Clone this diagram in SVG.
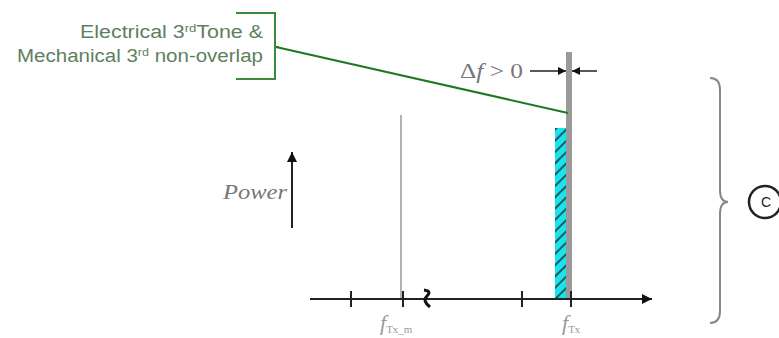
<svg xmlns="http://www.w3.org/2000/svg" width="779" height="338" viewBox="0 0 779 338">
<style>
.lbl{font-family:"Liberation Sans",Arial,sans-serif;font-size:18px;fill:#5e7f5e}
.math{font-family:"Liberation Serif","Times New Roman",serif;font-style:italic;fill:#777}
.sub{fill:#999}
.ax{stroke:#222;stroke-width:2;fill:none}
</style>
<defs>
<marker id="ah" viewBox="0 0 10 10" refX="10" refY="5" markerWidth="20" markerHeight="10" markerUnits="userSpaceOnUse" orient="auto"><path d="M0,0 L10,5 L0,10 z" fill="#111"/></marker>
<marker id="ahs" viewBox="0 0 10 10" refX="10" refY="5" markerWidth="12" markerHeight="8" markerUnits="userSpaceOnUse" orient="auto"><path d="M0,0 L10,5 L0,10 z" fill="#111"/></marker>
<pattern id="hatch" width="8" height="8" patternUnits="userSpaceOnUse" patternTransform="rotate(-45)">
<rect width="8" height="8" fill="#19e3ec"/>
<line x1="0" y1="4" x2="8" y2="4" stroke="#1a5a5e" stroke-width="2"/>
</pattern>
</defs>

<g id="label">
<path d="M236,13 H275 V79 H236 M275,47 H279" fill="none" stroke="#3a8a3a" stroke-width="2"/>
<text class="lbl" x="80" y="38" textLength="183" lengthAdjust="spacingAndGlyphs">Electrical 3<tspan font-size="11" dy="-6">rd</tspan><tspan dy="6">Tone &amp;</tspan></text>
<text class="lbl" x="17" y="62" textLength="246" lengthAdjust="spacingAndGlyphs">Mechanical 3<tspan font-size="11" dy="-6">rd</tspan><tspan dy="6"> non-overlap</tspan></text>
</g>

<g id="bar">
<rect x="555" y="128" width="15" height="171" fill="url(#hatch)"/>
<rect x="566" y="52" width="6" height="247" fill="#9a9a9a"/>
</g>

<g id="thin-line">
<line x1="401" y1="115" x2="401" y2="299" stroke="#999" stroke-width="1.5"/>
</g>

<g id="axis">
<line class="ax" x1="310" y1="299" x2="652" y2="299" marker-end="url(#ah)"/>
<g stroke="#222" stroke-width="2">
<line x1="351" y1="291" x2="351" y2="307"/>
<line x1="403" y1="291" x2="403" y2="307"/>
<line x1="522" y1="291" x2="522" y2="307"/>
<line x1="571" y1="291" x2="571" y2="307"/>
</g>
<path d="M424,290 Q432,291 427,296 Q422,301 430,307" fill="none" stroke="#111" stroke-width="3"/>
<text class="math sub" x="380" y="330" font-size="22">f<tspan font-size="11" dy="3" font-style="normal">Tx_m</tspan></text>
<text class="math sub" x="562" y="330" font-size="22">f<tspan font-size="11" dy="3" font-style="normal">Tx</tspan></text>
</g>

<g id="power">
<text class="math" x="223" y="199" font-size="21" textLength="64" lengthAdjust="spacingAndGlyphs">Power</text>
<line x1="292" y1="228" x2="292" y2="152" stroke="#222" stroke-width="2" marker-end="url(#ah)"/>
</g>

<g id="delta">
<text class="math" x="460" y="78" font-size="21" textLength="63" lengthAdjust="spacingAndGlyphs"><tspan font-style="normal">Δ</tspan>f <tspan font-style="normal">&gt; 0</tspan></text>
<line x1="530" y1="71" x2="566" y2="71" stroke="#222" stroke-width="1.5" marker-end="url(#ahs)"/>
<line x1="597" y1="71" x2="572" y2="71" stroke="#222" stroke-width="1.5" marker-end="url(#ahs)"/>
</g>

<g id="connectors">
<line x1="276" y1="47" x2="568" y2="113" stroke="#1f7a1f" stroke-width="2"/>
</g>

<g id="brace">
<path d="M710,78 Q720,78 720,90 L720,190 Q720,202 728,202 Q720,202 720,214 L720,311 Q720,323 710,323" fill="none" stroke="#888" stroke-width="2"/>
</g>

<g id="c-mark">
<circle cx="765" cy="202" r="16" fill="none" stroke="#222" stroke-width="2.5"/>
<text x="766" y="207" text-anchor="middle" font-family="Liberation Sans,Arial,sans-serif" font-size="14" fill="#222">C</text>
</g>
</svg>
